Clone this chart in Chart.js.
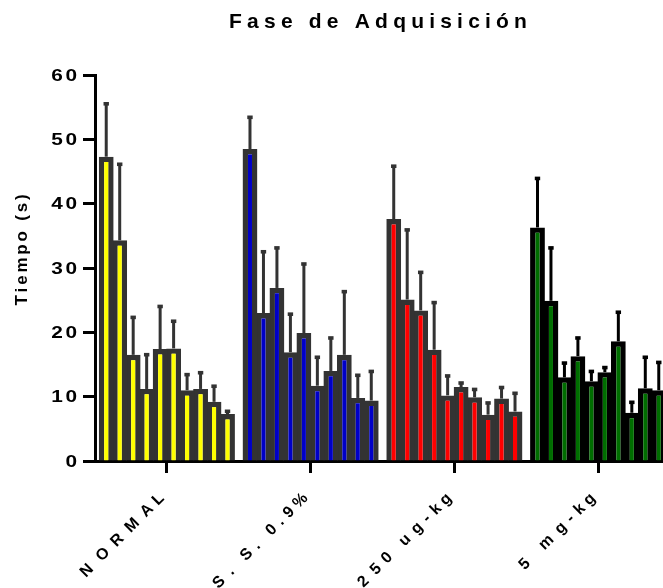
<!DOCTYPE html>
<html>
<head>
<meta charset="utf-8">
<script src="https://cdn.jsdelivr.net/npm/chart.js@4"></script>
<style>
  html, body { margin: 0; padding: 0; background: #fff; width: 663px; height: 588px; overflow: hidden; }
  canvas { display: block; }
</style>
</head>
<body>
<canvas id="chart" width="670" height="588"></canvas>
<script>
// Treatment groups on the x axis
const groups = ['NORMAL', 'S. S. 0.9%', '250 ug-kg', '5 mg-kg'];
// Ten acquisition sessions per group, drawn as adjacent bars
const sessions = ['1', '2', '3', '4', '5', '6', '7', '8', '9', '10'];

// Mean escape latency (s) per session
const normalMean = [47.3, 34.3, 16.5, 11.2, 17.4, 17.5, 11.0, 11.2, 9.2, 7.3];
const salineMean = [48.5, 23.0, 26.9, 16.9, 19.9, 11.7, 14.0, 16.5, 9.8, 9.4];
const ugMean     = [37.6, 25.1, 23.4, 17.3, 10.2, 11.5, 9.9, 7.2, 9.7, 7.7];
const mgMean     = [36.3, 24.9, 13.0, 16.3, 12.4, 13.8, 18.6, 7.5, 11.3, 11.0];

// Upper error (SEM) per session
const normalErr = [8.3, 11.9, 5.9, 5.4, 6.7, 4.3, 2.5, 2.6, 2.5, 0.5];
const salineErr = [5.0, 9.6, 6.3, 6.0, 10.8, 4.5, 5.2, 9.9, 3.6, 4.6];
const ugErr     = [8.3, 10.9, 6.0, 7.4, 3.1, 0.7, 1.3, 1.9, 1.8, 2.9];
const mgErr     = [7.7, 8.3, 2.3, 2.9, 1.6, 0.8, 4.6, 1.7, 4.9, 4.4];

// Y axis tick values
const yTicks = [0, 10, 20, 30, 40, 50, 60];

const titleText = 'Fase de Adquisición';
const yTitleText = 'Tiempo (s)';

const fillColors   = ['#FFFF00', '#0000C8', '#FF0000', '#006E00'];
const borderColors = ['#333333', '#333333', '#333333', '#000000'];

const means = [normalMean, salineMean, ugMean, mgMean];
const errs  = [normalErr, salineErr, ugErr, mgErr];

const datasets = sessions.map((s, i) => ({
  label: s,
  data: means.map(m => m[i]),
  errors: errs.map(e => e[i]),
  backgroundColor: fillColors,
  borderColor: borderColors,
  borderWidth: 5.4,
  borderSkipped: 'start',
  categoryPercentage: 0.9375,
  barPercentage: 1.1
}));

const FONT = '"Liberation Sans", Arial, Helvetica, sans-serif';

// Draws bold text with widened character advances (adv = width * k + spacing),
// optionally rotated and with horizontally stretched glyphs (sx)
function spacedText(ctx, text, x, y, o) {
  const k = o.k || 1, sx = o.sx || 1;
  ctx.save();
  ctx.font = 'bold ' + o.size + 'px ' + FONT;
  const chars = Array.from(text);
  const widths = chars.map(c => ctx.measureText(c).width * sx);
  const adv = widths.map(w => w * k + o.spacing);
  const total = adv.slice(0, -1).reduce((a, b) => a + b, 0) + widths[widths.length - 1];
  ctx.translate(x, y);
  if (o.rotate) ctx.rotate(o.rotate);
  let cx = o.align === 'center' ? -total / 2 : (o.align === 'right' ? -total : 0);
  ctx.textAlign = 'left';
  ctx.textBaseline = 'alphabetic';
  ctx.fillStyle = '#000';
  chars.forEach((c, i) => {
    // centre each glyph inside its widened slot
    const off = i === chars.length - 1 ? 0 : (adv[i] - o.spacing - widths[i]) / 2;
    ctx.save();
    ctx.translate(cx + (i === 0 ? 0 : off), 0);
    ctx.scale(sx, 1);
    ctx.fillText(c, 0, 0);
    ctx.restore();
    cx += adv[i];
  });
  ctx.restore();
}

const errorBars = {
  id: 'errorBars',
  afterDatasetsDraw(chart) {
    const ctx = chart.ctx;
    const yScale = chart.scales.y;
    chart.data.datasets.forEach((ds, i) => {
      const meta = chart.getDatasetMeta(i);
      meta.data.forEach((bar, j) => {
        const top = yScale.getPixelForValue(ds.data[j] + ds.errors[j]);
        const col = borderColors[j];
        ctx.save();
        ctx.strokeStyle = col;
        ctx.fillStyle = col;
        ctx.lineWidth = 3;
        ctx.beginPath();
        ctx.moveTo(bar.x, bar.y);
        ctx.lineTo(bar.x, top);
        ctx.stroke();
        ctx.fillRect(bar.x - 2.7, top - 1.3, 5.4, 3.6);
        ctx.restore();
      });
    });
  }
};

const textLayer = {
  id: 'textLayer',
  afterDraw(chart) {
    const ctx = chart.ctx;
    const xs = chart.scales.x, ys = chart.scales.y;
    // title
    spacedText(ctx, titleText, 378, 28, { size: 21, spacing: 5.2, align: 'center' });
    // y axis title
    spacedText(ctx, yTitleText, 27, 250, { size: 17, spacing: 2.8, align: 'center', rotate: -Math.PI / 2 });
    // y tick labels
    yTicks.forEach(v => {
      spacedText(ctx, String(v), 77, ys.getPixelForValue(v) + 5.8, { size: 16, spacing: 2.5, sx: 1.3, align: 'right' });
    });
    // x category labels
    groups.forEach((g, i) => {
      const px = xs.getPixelForValue(i);
      spacedText(ctx, g, px - 2, 499, { size: 16, spacing: 2.5, k: 1.48, align: 'right', rotate: -Math.PI / 4 });
    });
  }
};

const axisGrid = {
  display: true,
  offset: false,
  drawOnChartArea: false,
  drawTicks: true,
  tickLength: 12,
  tickWidth: 3,
  tickColor: '#000'
};

new Chart(document.getElementById('chart'), {
  type: 'bar',
  data: { labels: groups, datasets },
  options: {
    responsive: false,
    animation: false,
    events: [],
    layout: { padding: { top: 75, left: 0, right: 0, bottom: 0 } },
    plugins: {
      legend: { display: false },
      title: { display: false },
      tooltip: { enabled: false }
    },
    scales: {
      x: {
        type: 'category',
        offset: true,
        z: 1,
        grid: axisGrid,
        border: { display: true, width: 3, color: '#000' },
        ticks: { display: false },
        afterFit: s => { s.height = 127; }
      },
      y: {
        type: 'linear',
        min: 0,
        max: 60,
        z: 1,
        grid: axisGrid,
        border: { display: true, width: 3, color: '#000' },
        ticks: { display: false, stepSize: 10 },
        afterFit: s => { s.width = 95; }
      }
    }
  },
  plugins: [errorBars, textLayer]
});
</script>
</body>
</html>
